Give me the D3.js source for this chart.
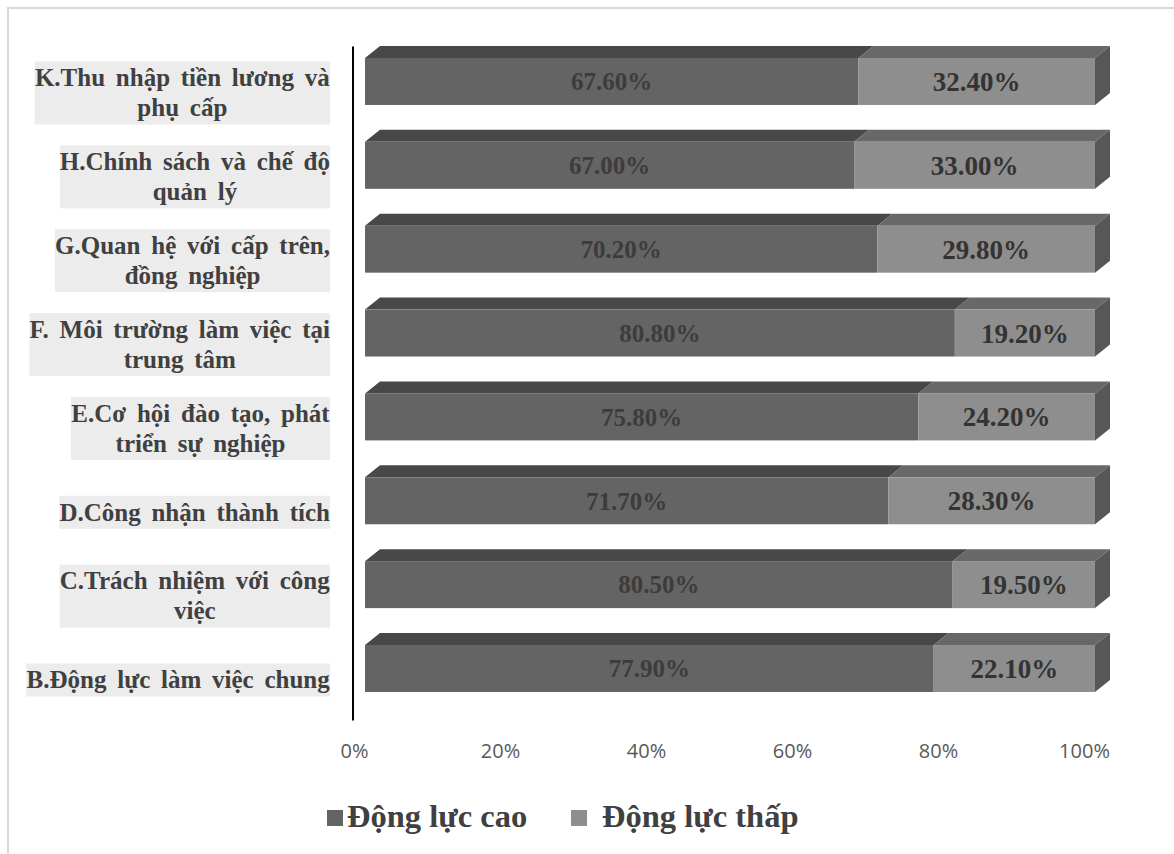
<!DOCTYPE html>
<html>
<head>
<meta charset="utf-8">
<script src="https://cdn.jsdelivr.net/npm/d3@7"></script>
<style>
  html, body { margin: 0; padding: 0; background: #ffffff; }
  svg { display: block; }
</style>
</head>
<body>
<svg id="chart" width="1174" height="854"></svg>
<script>
// ---- data ----
const categories = [
  "K.Thu nhập tiền lương và\nphụ cấp",
  "H.Chính  sách và chế độ\nquản lý",
  "G.Quan hệ với cấp trên,\nđồng nghiệp",
  "F. Môi trường làm việc tại\ntrung tâm",
  "E.Cơ hội đào tạo, phát\ntriển sự nghiệp",
  "D.Công nhận thành tích",
  "C.Trách nhiệm với công\nviệc",
  "B.Động lực làm việc chung"
];
const dongLucCao  = [67.6, 67.0, 70.2, 80.8, 75.8, 71.7, 80.5, 77.9];
const dongLucThap = [32.4, 33.0, 29.8, 19.2, 24.2, 28.3, 19.5, 22.1];
const seriesNames = ["Động lực cao", "Động lực thấp"];
const tickValues = [0, 20, 40, 60, 80, 100];
const tickLabels = ["0%", "20%", "40%", "60%", "80%", "100%"];

// ---- layout ----
const svg = d3.select("#chart");
const serif = "'Liberation Serif', 'Times New Roman', serif";
const sans = "'Open Sans', 'Liberation Sans', sans-serif";

// outer border
svg.append("rect").attr("x", 8).attr("y", 8).attr("width", 1200).attr("height", 900)
  .attr("fill", "none").attr("stroke", "#d9d9d9").attr("stroke-width", 2);

const x = d3.scaleLinear().domain([0, 100]).range([365, 1095]);
const step = 83.86;
const y = d3.scaleBand().domain(categories)
  .range([58 - 0.22 * step, 58 - 0.22 * step + 8 * step])
  .paddingInner(0.44).paddingOuter(0.22);

const DX = 15, DY = 12;
const colors = {
  cao:  { front: "#646464", top: "#484848", label: "#3c3c3c", size: 25 },
  thap: { front: "#8e8e8e", top: "#686868", side: "#575757", label: "#333333", size: 27 }
};

const rows = categories.map((c, i) => ({
  cat: c, cao: dongLucCao[i], thap: dongLucThap[i]
}));

const bars = svg.append("g");
rows.forEach(d => {
  const y0 = y(d.cat), y1 = y0 + y.bandwidth();
  const segs = [
    { a: 0, b: d.cao, col: colors.cao, v: d.cao },
    { a: d.cao, b: d.cao + d.thap, col: colors.thap, v: d.thap }
  ];
  segs.forEach((s, si) => {
    const xa = x(s.a), xb = x(s.b);
    bars.append("path")
      .attr("d", `M${xa},${y0} L${xa + DX},${y0 - DY} L${xb + DX},${y0 - DY} L${xb},${y0} Z`)
      .attr("fill", s.col.top);
    bars.append("rect").attr("x", xa).attr("y", y0)
      .attr("width", xb - xa).attr("height", y1 - y0).attr("fill", s.col.front);
    if (si === 1) {
      bars.append("path")
        .attr("d", `M${xb},${y0} L${xb + DX},${y0 - DY} L${xb + DX},${y1 - DY} L${xb},${y1} Z`)
        .attr("fill", s.col.side);
    }
    bars.append("text")
      .attr("x", (xa + xb) / 2).attr("y", (y0 + y1) / 2)
      .attr("dy", "0.35em").attr("text-anchor", "middle")
      .attr("font-family", serif).attr("font-weight", "bold").attr("font-size", s.col.size)
      .attr("fill", s.col.label)
      .text(s.v.toFixed(2) + "%");
  });
});

// vertical axis line
svg.append("line")
  .attr("x1", x(0) - 12).attr("x2", x(0) - 12)
  .attr("y1", y.range()[0] + 7).attr("y2", y.range()[1] + 10)
  .attr("stroke", "#000").attr("stroke-width", 2);

// category labels with light grey background
const labelRight = 330, lineH = 30;
const lab = svg.append("g");
categories.forEach(c => {
  const lines = c.split("\n");
  const cy = y(c) + y.bandwidth() / 2 + 11;
  const firstY = cy - (lines.length - 1) * lineH / 2;
  const g = lab.append("g");
  const bg = g.append("rect").attr("fill", "#ececec");
  const texts = lines.map((ln, k) => g.append("text")
    .attr("y", firstY + k * lineH).attr("dy", "0.35em")
    .attr("text-anchor", "middle")
    .attr("font-family", serif).attr("font-weight", "bold").attr("font-size", 25)
    .attr("word-spacing", 4.5)
    .attr("fill", "#404040").text(ln));
  const maxW = d3.max(texts, t => t.node().getBBox().width);
  const cx = labelRight - maxW / 2;
  texts.forEach(t => t.attr("x", cx));
  bg.attr("x", labelRight - maxW).attr("width", maxW)
    .attr("y", firstY - 16).attr("height", (lines.length - 1) * lineH + 33);
});

// x tick labels
const xAxis = d3.axisBottom(x).tickValues(tickValues)
  .tickFormat((d, i) => tickLabels[i]).tickSize(0).tickPadding(0);
const ax = svg.append("g").attr("transform", "translate(-11,744)").call(xAxis);
ax.select(".domain").remove();
ax.selectAll("text").attr("font-family", sans).attr("font-size", 20)
  .attr("fill", "#595959").attr("dy", "0.35em").attr("y", 7);

// legend
const legend = svg.append("g");
const legItems = [
  { name: seriesNames[0], col: colors.cao.front, sx: 327, tx: 347 },
  { name: seriesNames[1], col: colors.thap.front, sx: 571, tx: 602 }
];
legItems.forEach(l => {
  legend.append("rect").attr("x", l.sx).attr("y", 810).attr("width", 16).attr("height", 16)
    .attr("fill", l.col);
  legend.append("text").attr("x", l.tx).attr("y", 827)
    .attr("font-family", serif).attr("font-weight", "bold").attr("font-size", 32.5)
    .attr("fill", "#404040").text(l.name);
});
</script>
</body>
</html>
